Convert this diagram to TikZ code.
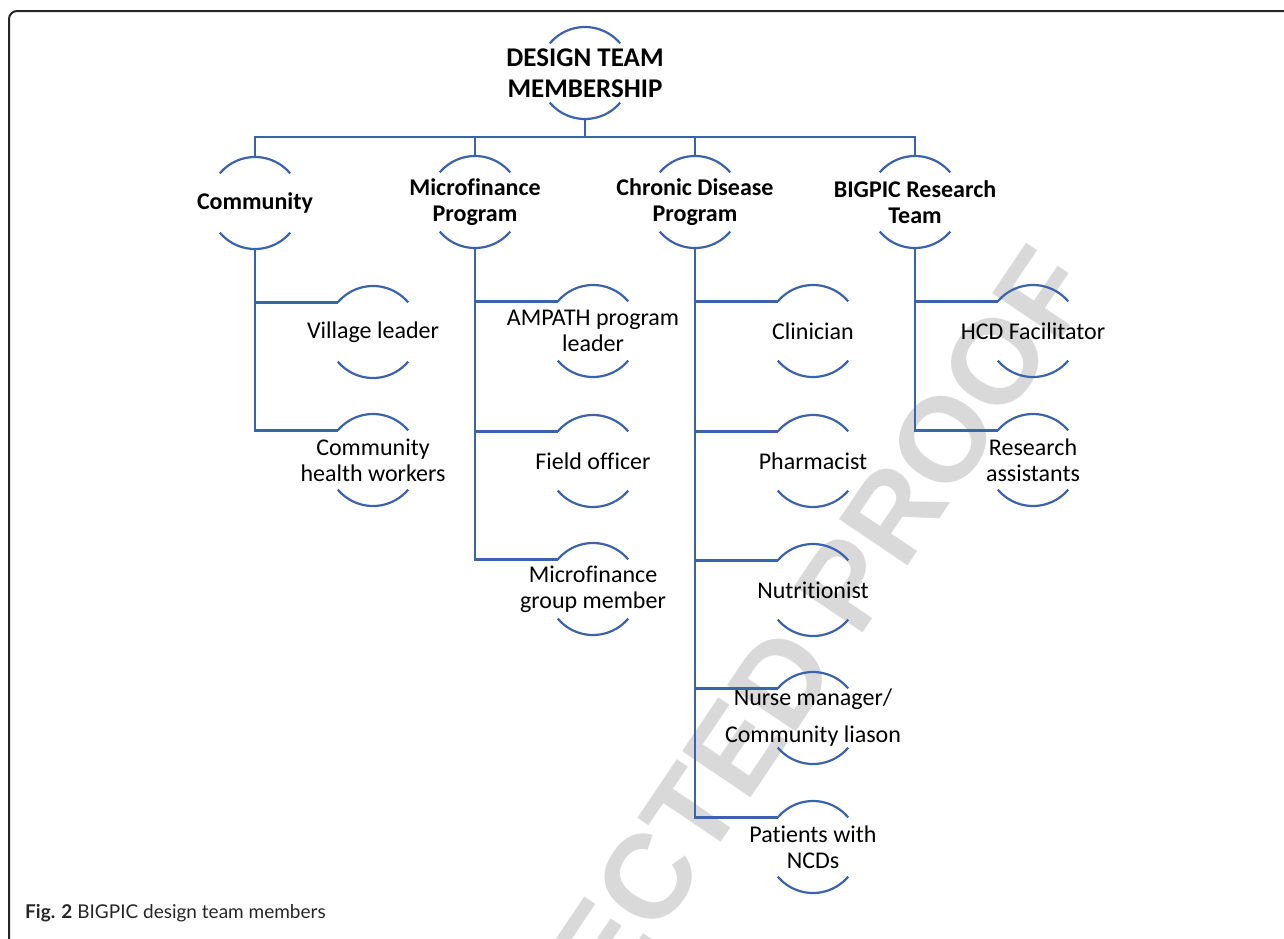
\documentclass[tikz,border=0pt]{standalone}
\usepackage{fontspec}
\setmainfont{Carlito}[Ligatures={NoCommon}]
\newfontfamily\markfont{Liberation Sans}
\newfontfamily\capfont{Lato}[Ligatures={NoCommon}]
\definecolor{teamblue}{RGB}{59,98,173}

\tikzset{
  member/.style={align=center, inner sep=0pt, font=\fontsize{24}{26}\selectfont},
  headbox/.style={member, font=\bfseries\fontsize{24}{26}\selectfont},
  link/.style={teamblue, line width=2.2pt},
}

\begin{document}
\begin{tikzpicture}[x=1pt,y=1pt]
    \useasboundingbox (0,0) rectangle (1284,-938);
    \begin{scope}
        \clip (0,0) rectangle (1284,-938);
        \node[gray!30, rotate=56, anchor=east, inner sep=0pt, font=\markfont\bfseries\fontsize{120}{120}\selectfont] (mark) at (1063,-262) {UNCORRECTED PROOF};
        \draw[line width=2pt, black!85, rounded corners=8pt] (9,-11) rectangle (1300,-960);
    \end{scope}
    \node[anchor=base west, inner sep=0pt, text=black!85, font=\capfont\fontsize{19}{23}\selectfont] (caption) at (25,-918) {\textbf{Fig. 2} BIGPIC design team members};

    \node[headbox, font=\bfseries\fontsize{27}{31.5}\selectfont] (root) at (585,-73) {DESIGN TEAM\\MEMBERSHIP};
    \node[headbox] (comm) at (255,-203) {Community};
    \node[headbox] (micro) at (475,-202) {Microfinance\\Program};
    \node[headbox] (chron) at (695,-202) {Chronic Disease\\Program};
    \node[headbox] (bigpic) at (915,-202) {BIGPIC Research\\Team};

    \node[member] (vill) at (373,-332) {Village leader};
    \node[member] (chw) at (373,-460) {Community\\health workers};
    \node[member] (ampath) at (593,-331) {AMPATH program\\leader};
    \node[member] (field) at (593,-461) {Field officer};
    \node[member] (mfgroup) at (593,-589) {Microfinance\\group member};
    \node[member] (clin) at (813,-331) {Clinician};
    \node[member] (pharm) at (813,-461) {Pharmacist};
    \node[member] (nutri) at (813,-590) {Nutritionist};
    \node[member] (nurse) at (813,-718) {Nurse manager/\\[11pt]Community liason};
    \node[member] (patients) at (813,-847) {Patients with\\NCDs};
    \node[member] (hcd) at (1033,-331) {HCD Facilitator};
    \node[member] (assist) at (1033,-460) {Research\\assistants};

    \foreach \n in {root,comm,micro,chron,bigpic,vill,chw,ampath,field,mfgroup,clin,pharm,nutri,nurse,patients,hcd,assist}
    {
        \draw[link] ([shift={(140:46)}]\n.center) arc[start angle=140, end angle=40, radius=46];
        \draw[link] ([shift={(220:46)}]\n.center) arc[start angle=220, end angle=320, radius=46];
    }

    \draw[link] ([yshift=-46]root.center) -- ++(0,-18) coordinate (bus);
    \foreach \t in {comm,micro,chron,bigpic}
        \draw[link] (bus) -| ([yshift=46]\t.center);
    \foreach \p/\c in {comm/vill,comm/chw,micro/ampath,micro/field,micro/mfgroup,chron/clin,chron/pharm,chron/nutri,chron/nurse,chron/patients,bigpic/hcd,bigpic/assist}
        \draw[link] ([yshift=-46]\p.center) |- ([shift={(140:46)}]\c.center);
\end{tikzpicture}
\end{document}
